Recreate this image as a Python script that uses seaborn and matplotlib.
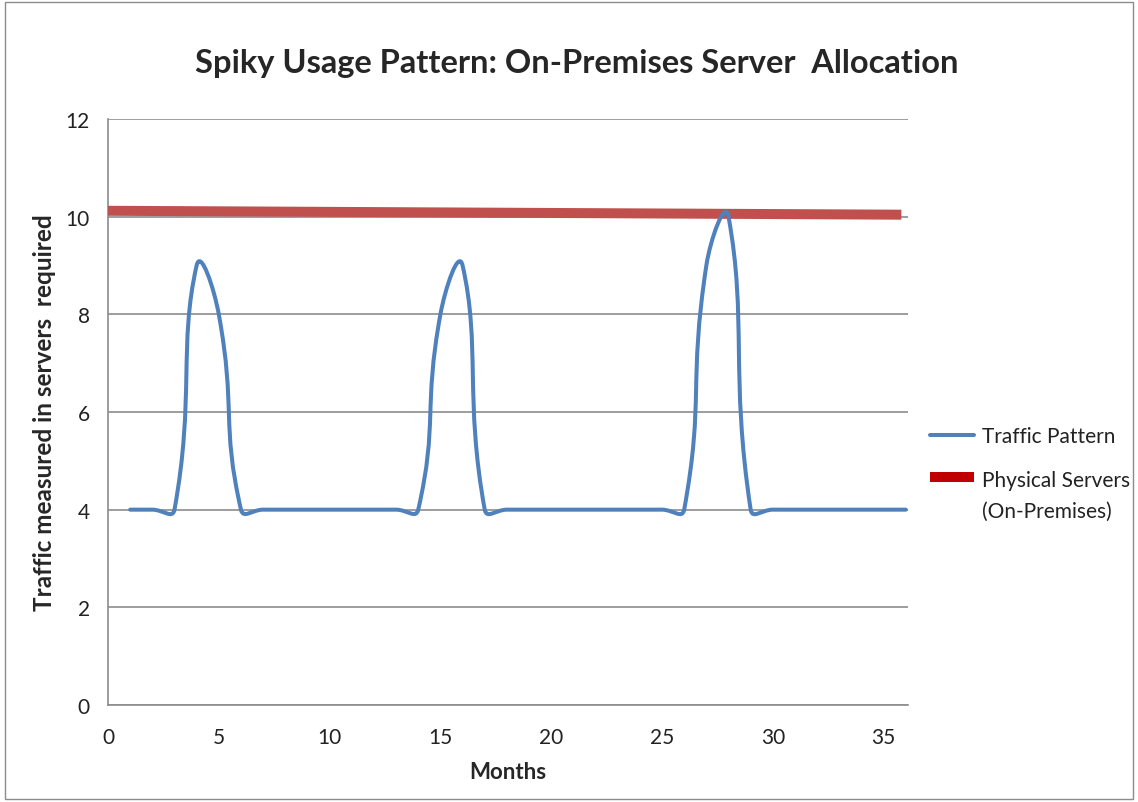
import numpy as np
import pandas as pd
import seaborn as sns
import matplotlib.pyplot as plt
from matplotlib.path import Path
from matplotlib.patches import PathPatch, Patch, Rectangle
from matplotlib.lines import Line2D
from matplotlib.legend_handler import HandlerPatch

# data
months = [1, 2, 3, 4, 5, 6, 7, 8, 9, 10, 11, 12, 13, 14, 15, 16, 17, 18,
          19, 20, 21, 22, 23, 24, 25, 26, 27, 28, 29, 30, 31, 32, 33, 34, 35, 36]
traffic = [4, 4, 4, 9, 8, 4, 4, 4, 4, 4, 4, 4, 4, 4, 8, 9, 4, 4,
           4, 4, 4, 4, 4, 4, 4, 4, 9, 10, 4, 4, 4, 4, 4, 4, 4, 4]
servers_x = [0, 35.8]
servers_y = [10.12, 10.04]
x_ticks = [0, 5, 10, 15, 20, 25, 30, 35]
y_ticks = [0, 2, 4, 6, 8, 10, 12]

sns.set_style('white')
plt.rcParams['font.family'] = ['Lato', 'DejaVu Sans']

BLUE = '#4F81BD'
RED = '#C0504D'
GRID = '#8C8C8C'


def smooth_path(xs, ys, sx, sy, s=0.5):
    # excel-like smoothed line: cubic bezier through every point
    p = np.column_stack([np.asarray(xs, float) * sx, np.asarray(ys, float) * sy])
    n = len(p)
    verts = [p[0]]
    codes = [Path.MOVETO]
    for i in range(n - 1):
        p0 = p[i - 1] if i > 0 else p[i]
        p1, p2 = p[i], p[i + 1]
        p3 = p[i + 2] if i + 2 < n else p[i + 1]
        d01 = np.hypot(*(p1 - p0))
        d12 = np.hypot(*(p2 - p1))
        d23 = np.hypot(*(p3 - p2))
        c1 = p1 + (p2 - p0) * s * d12 / (d01 + d12)
        c2 = p2 - (p3 - p1) * s * d12 / (d12 + d23)
        verts += [c1, c2, p2]
        codes += [Path.CURVE4] * 3
    verts = np.array(verts) / [sx, sy]
    return Path(verts, codes)


def top_rect(legend, orig_handle, xdescent, ydescent, width, height, fontsize):
    # red swatch sits next to the first line of the two-line label
    return Rectangle((-xdescent, -ydescent + height / 2 + 10.5), width, 7.2)


fig = plt.figure(figsize=(11.38, 8.03), dpi=100)
ax = fig.add_axes([0.0949, 0.1208, 0.7030, 0.7298])

xmax, ymax = 36.1, 12
ax.set_xlim(0, xmax)
ax.set_ylim(0, ymax)

df_srv = pd.DataFrame({'x': servers_x, 'y': servers_y})
sns.lineplot(data=df_srv, x='x', y='y', color=RED, linewidth=7.2, ax=ax,
             solid_capstyle='butt', zorder=3)

sx = 800 / xmax
sy = 586 / ymax
path = smooth_path(months, traffic, sx, sy)
ax.add_patch(PathPatch(path, facecolor='none', edgecolor=BLUE, lw=2.9,
                       capstyle='round', joinstyle='round', zorder=4))

ax.set_xticks(x_ticks)
ax.set_yticks(y_ticks)
ax.yaxis.grid(True, color=GRID, linewidth=1.2)
ax.xaxis.grid(False)
ax.set_axisbelow(True)
for side in ['top', 'right']:
    ax.spines[side].set_visible(False)
for side in ['left', 'bottom']:
    ax.spines[side].set_color(GRID)
    ax.spines[side].set_linewidth(1.2)
ax.tick_params(axis='both', length=0, labelsize=15, colors='#222222')
ax.tick_params(axis='y', pad=13)
ax.tick_params(axis='x', pad=16)

ax.set_xlabel('Months', fontsize=16, fontweight='bold', labelpad=10)
ax.set_ylabel('Traffic measured in servers  required', fontsize=17.5,
              fontweight='bold', labelpad=7)
fig.text(0.507, 0.921, 'Spiky Usage Pattern: On-Premises Server  Allocation',
         ha='center', va='center', fontsize=23.5, fontweight='bold')

handles = [Line2D([], [], color=BLUE, lw=2.9),
           Patch(facecolor='#C00000', edgecolor='none')]
labels = ['Traffic Pattern', 'Physical Servers\n(On-Premises)']
leg = ax.legend(handles, labels, loc='upper left', bbox_to_anchor=(0.810, 0.478),
                bbox_transform=fig.transFigure, frameon=False, fontsize=15,
                handlelength=2.1, handleheight=0.7, handletextpad=0.38,
                labelspacing=1.15, borderaxespad=0,
                handler_map={Patch: HandlerPatch(patch_func=top_rect)})
for t in leg.get_texts():
    t.set_linespacing(1.65)
    t.set_color('#222222')

fig.patches.append(Rectangle((0.004, 0.004), 0.992, 0.992, transform=fig.transFigure,
                             fill=False, edgecolor='#8C8C8C', lw=1))

fig.savefig('out.png', dpi=100)
